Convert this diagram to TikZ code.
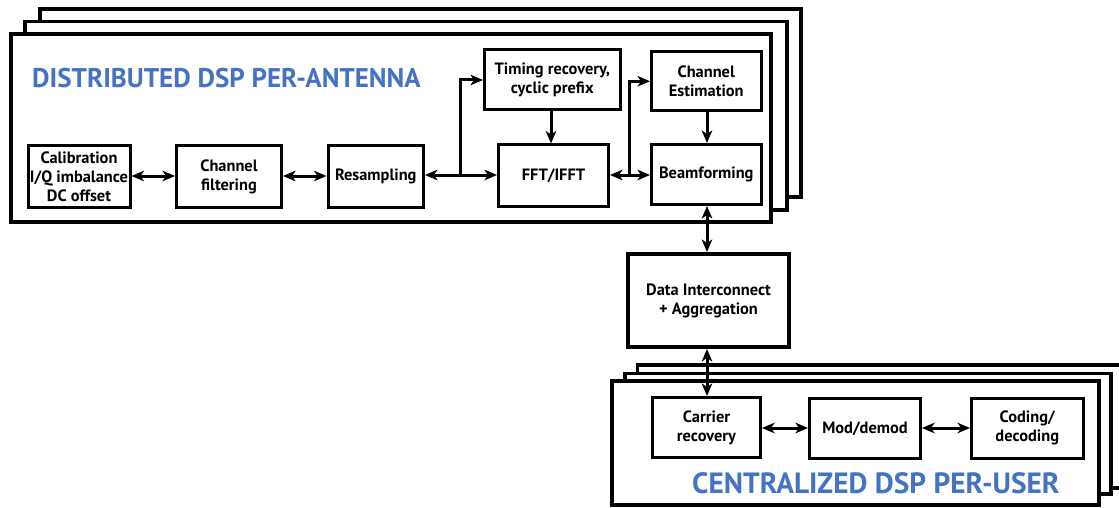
\documentclass[tikz,border=0pt]{standalone}
\usepackage{fontspec}
\setmainfont{PT Sans}
\usetikzlibrary{arrows.meta}
\definecolor{titleblue}{HTML}{4472C4}
\begin{document}
\begin{tikzpicture}[x=1pt,y=-1pt,
  >={Stealth[length=12.5pt, width=10.5pt, inset=3.5pt]},
  frame/.style={draw, line width=3.5pt, fill=white},
  frontframe/.style={draw, line width=4pt, fill=white},
  blk/.style={draw, line width=3pt, fill=white, align=center, inner sep=0pt,
    font=\fontsize{16.4}{19}\selectfont\bfseries},
  hub/.style={blk, line width=4pt},
  link/.style={line width=3pt, ->},
  biLink/.style={line width=3pt, <->},
  heading/.style={text=titleblue, inner sep=0pt, anchor=base west}]
\useasboundingbox (0,0) rectangle (1119,508);
\clip (0,0) rectangle (1119,508);

% stacked per-antenna frames
\draw[frame] (40,9) rectangle (801,197);
\draw[frame] (25,21.5) rectangle (787,210);
\draw[frontframe] (11,34) rectangle (771,222);

% stacked per-user frames
\draw[frame] (637.5,365) rectangle (1135,488);
\draw[frame] (625,373.5) rectangle (1111,494);
\draw[frontframe] (612,381) rectangle (1099,505);

% headings
\node[heading, font=\fontsize{27}{30}\selectfont\bfseries] (tdist) at (32,88) {DISTRIBUTED DSP PER-ANTENNA};
\node[heading, font=\fontsize{29.3}{32}\selectfont\bfseries] (tcent) at (692,493) {CENTRALIZED DSP PER-USER};

% per-antenna chain
\node[blk, minimum width=102pt, minimum height=62pt] (cal) at (79,176.5) {Calibration\\I/Q imbalance\\DC offset};
\node[blk, minimum width=105pt, minimum height=62pt] (filt) at (229,176.5) {Channel\\filtering};
\node[blk, minimum width=95.5pt, minimum height=62pt] (res) at (375.75,176.5) {Resampling};
\node[blk, minimum width=110pt, minimum height=61pt] (fft) at (553.5,175.5) {FFT/IFFT};
\node[blk, minimum width=135.5pt, minimum height=60pt] (tim) at (552.25,80) {Timing recovery,\\cyclic prefix};
\node[blk, minimum width=109.5pt, minimum height=59.5pt] (est) at (706.25,81.25) {Channel\\Estimation};
\node[blk, minimum width=109.5pt, minimum height=60pt] (bf) at (706.25,174.5) {Beamforming};

% interconnect
\node[hub, minimum width=161pt, minimum height=93pt] (dic) at (708.5,300.5) {Data Interconnect\\+ Aggregation};

% per-user chain
\node[blk, minimum width=108pt, minimum height=60pt] (car) at (706.5,427.5) {Carrier\\recovery};
\node[blk, minimum width=111pt, minimum height=60pt] (mod) at (865,428.5) {Mod/demod};
\node[blk, minimum width=111.5pt, minimum height=60pt] (cod) at (1027.25,428) {Coding/\\decoding};

% branch points
\coordinate (j1) at (460,175);
\coordinate (j2) at (629,175);

% connectors
\draw[biLink] (cal.east |- 0,176) -- (filt.west |- 0,176);
\draw[biLink] (filt.east |- 0,176) -- (res.west |- 0,176);
\draw[biLink] (res.east |- j1) -- (fft.west |- j1);
\draw[link] (j1) |- (tim.west);
\draw[biLink] (fft.east |- j2) -- (bf.west |- j2);
\draw[link] (j2) |- (est.west);
\draw[link] (tim.south -| 551,0) -- (fft.north -| 551,0);
\draw[link] (est.south -| 707,0) -- (bf.north -| 707,0);
\draw[biLink] (bf.south -| 707,0) -- (dic.north -| 707,0);
\draw[biLink] (dic.south -| 707,0) -- (car.north -| 707,0);
\draw[biLink] (car.east |- 0,428) -- (mod.west |- 0,428);
\draw[biLink] (mod.east |- 0,428) -- (cod.west |- 0,428);
\end{tikzpicture}
\end{document}
